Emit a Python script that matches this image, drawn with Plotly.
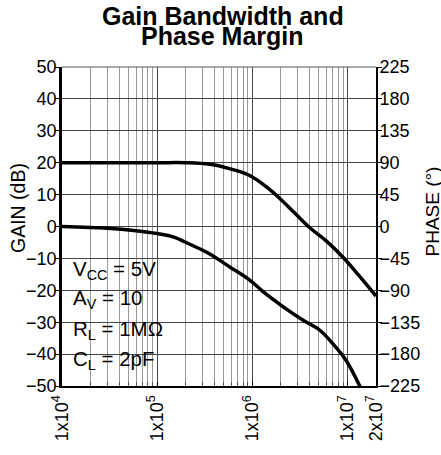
import plotly.graph_objects as go

# ---------------- data ----------------
freq_gain = [1e4, 3e4, 1e5, 2e5, 3.6e5, 6e5, 9.4e5, 1.4e6, 1.95e6, 2.8e6, 4.0e6, 6e6, 8.9e6, 1.3e7, 2e7]
gain_db = [20, 20, 20, 20, 19.5, 18, 16, 12.5, 8.8, 4.2, -0.3, -4.5, -9.5, -15.1, -21.8]

freq_phase = [1e4, 3e4, 6e4, 1e5, 1.5e5, 2.2e5, 3.5e5, 5.8e5, 9.4e5, 1.3e6, 2.1e6,
              3.4e6, 5.1e6, 7e6, 9.6e6, 1.36e7]
phase_deg = [0, -2.5, -6, -10, -15, -25, -38, -57, -75.5, -92, -113,
             -132, -146, -165, -188, -226]

x_tickvals = [1e4, 1e5, 1e6, 1e7, 2e7]
x_ticktext = ["1x10<sup>4</sup>", "1x10<sup>5</sup>", "1x10<sup>6</sup>", "1x10<sup>7</sup>", "2x10<sup>7</sup>"]
x_minor = [m * 10 ** e for e in (4, 5, 6) for m in range(2, 10)] + [1e7]

gain_ticks = list(range(-50, 51, 10))
phase_ticks = list(range(-225, 226, 45))

cond_lines = ["V<sub>CC</sub> = 5V", "A<sub>V</sub> = 10", "R<sub>L</sub> = 1MΩ", "C<sub>L</sub> = 2pF"]
cond_y = [-13.6, -22.7, -32.4, -41.8]

FONT = "Liberation Sans, Arial, Helvetica, sans-serif"

fig = go.Figure()
fig.add_trace(go.Scatter(x=freq_gain, y=gain_db, mode="lines", yaxis="y",
                         line=dict(color="black", width=3.5, shape="spline", smoothing=1.0),
                         showlegend=False, hoverinfo="skip"))
fig.add_trace(go.Scatter(x=freq_phase, y=phase_deg, mode="lines", yaxis="y2",
                         line=dict(color="black", width=3.5, shape="spline", smoothing=1.0),
                         showlegend=False, hoverinfo="skip"))

# white box behind conditions text (covers grid, under traces)
fig.add_shape(type="rect", xref="paper", yref="y", x0=0.004, x1=0.344, y0=-49.6, y1=-10.4,
              fillcolor="white", line=dict(width=0), layer="between")
# top border line
fig.add_shape(type="line", xref="paper", yref="paper", x0=0, x1=1, y0=1, y1=1,
              line=dict(color="#555", width=1), layer="above")

for txt, yy in zip(cond_lines, cond_y):
    fig.add_annotation(text=txt, xref="paper", yref="y", x=0.028, y=yy,
                       xanchor="left", yanchor="middle", showarrow=False,
                       font=dict(family=FONT, size=20.5, color="black"))

# title (two lines, tight leading)
fig.add_annotation(text="<b>Gain Bandwidth and</b>", xref="paper", yref="paper",
                   x=(222.5 - 62) / 314, y=1 + (67 - 15.5) / 319, xanchor="center", yanchor="middle",
                   showarrow=False, font=dict(family=FONT, size=25, color="black"))
fig.add_annotation(text="<b>Phase Margin</b>", xref="paper", yref="paper",
                   x=(222.5 - 62) / 314, y=1 + (67 - 35.5) / 319, xanchor="center", yanchor="middle",
                   showarrow=False, font=dict(family=FONT, size=25, color="black"))

# axis titles
fig.add_annotation(text="GAIN (dB)", xref="paper", yref="paper",
                   x=(18 - 62) / 314, y=(386 - 208) / 319, xanchor="center", yanchor="middle",
                   textangle=-90, showarrow=False, font=dict(family=FONT, size=19.5, color="black"))
fig.add_annotation(text="PHASE (°)", xref="paper", yref="paper",
                   x=(431.5 - 62) / 314, y=(386 - 211) / 319, xanchor="center", yanchor="middle",
                   textangle=-90, showarrow=False, font=dict(family=FONT, size=19, color="black"))

fig.update_layout(
    width=441, height=455,
    margin=dict(l=62, r=65, t=67, b=69),
    paper_bgcolor="white", plot_bgcolor="white",
    font=dict(family=FONT, size=18, color="black"),
    xaxis=dict(type="log", range=[4, 7.30103], tickmode="array",
               tickvals=x_tickvals, ticktext=x_ticktext, tickangle=-90,
               ticks="inside", ticklen=4, tickcolor="black", tickwidth=1,
               showgrid=True, gridcolor="#444", gridwidth=1.2,
               showline=True, linecolor="black", linewidth=2,
               minor=dict(tickmode="array", tickvals=x_minor, ticks="inside", ticklen=4,
                          tickcolor="#555", showgrid=True, gridcolor="#999", gridwidth=1),
               zeroline=False, tickfont=dict(size=18)),
    yaxis=dict(range=[-50, 50], tickmode="array", tickvals=gain_ticks,
               ticks="outside", ticklen=4, tickcolor="black", tickwidth=1,
               ticklabelstandoff=-5,
               showgrid=True, gridcolor="#444", gridwidth=1.2,
               showline=True, linecolor="black", linewidth=2.5,
               zeroline=False, tickfont=dict(size=18)),
    yaxis2=dict(range=[-225, 225], tickmode="array", tickvals=phase_ticks,
                overlaying="y", side="right",
                ticks="outside", ticklen=4, tickcolor="black", tickwidth=1,
                ticklabelstandoff=-6,
                showgrid=False, showline=True, linecolor="black", linewidth=2,
                zeroline=False, tickfont=dict(size=18)),
)

fig.write_html("out.html", config={"displayModeBar": False},
               post_script="document.body.style.margin='0px';")
